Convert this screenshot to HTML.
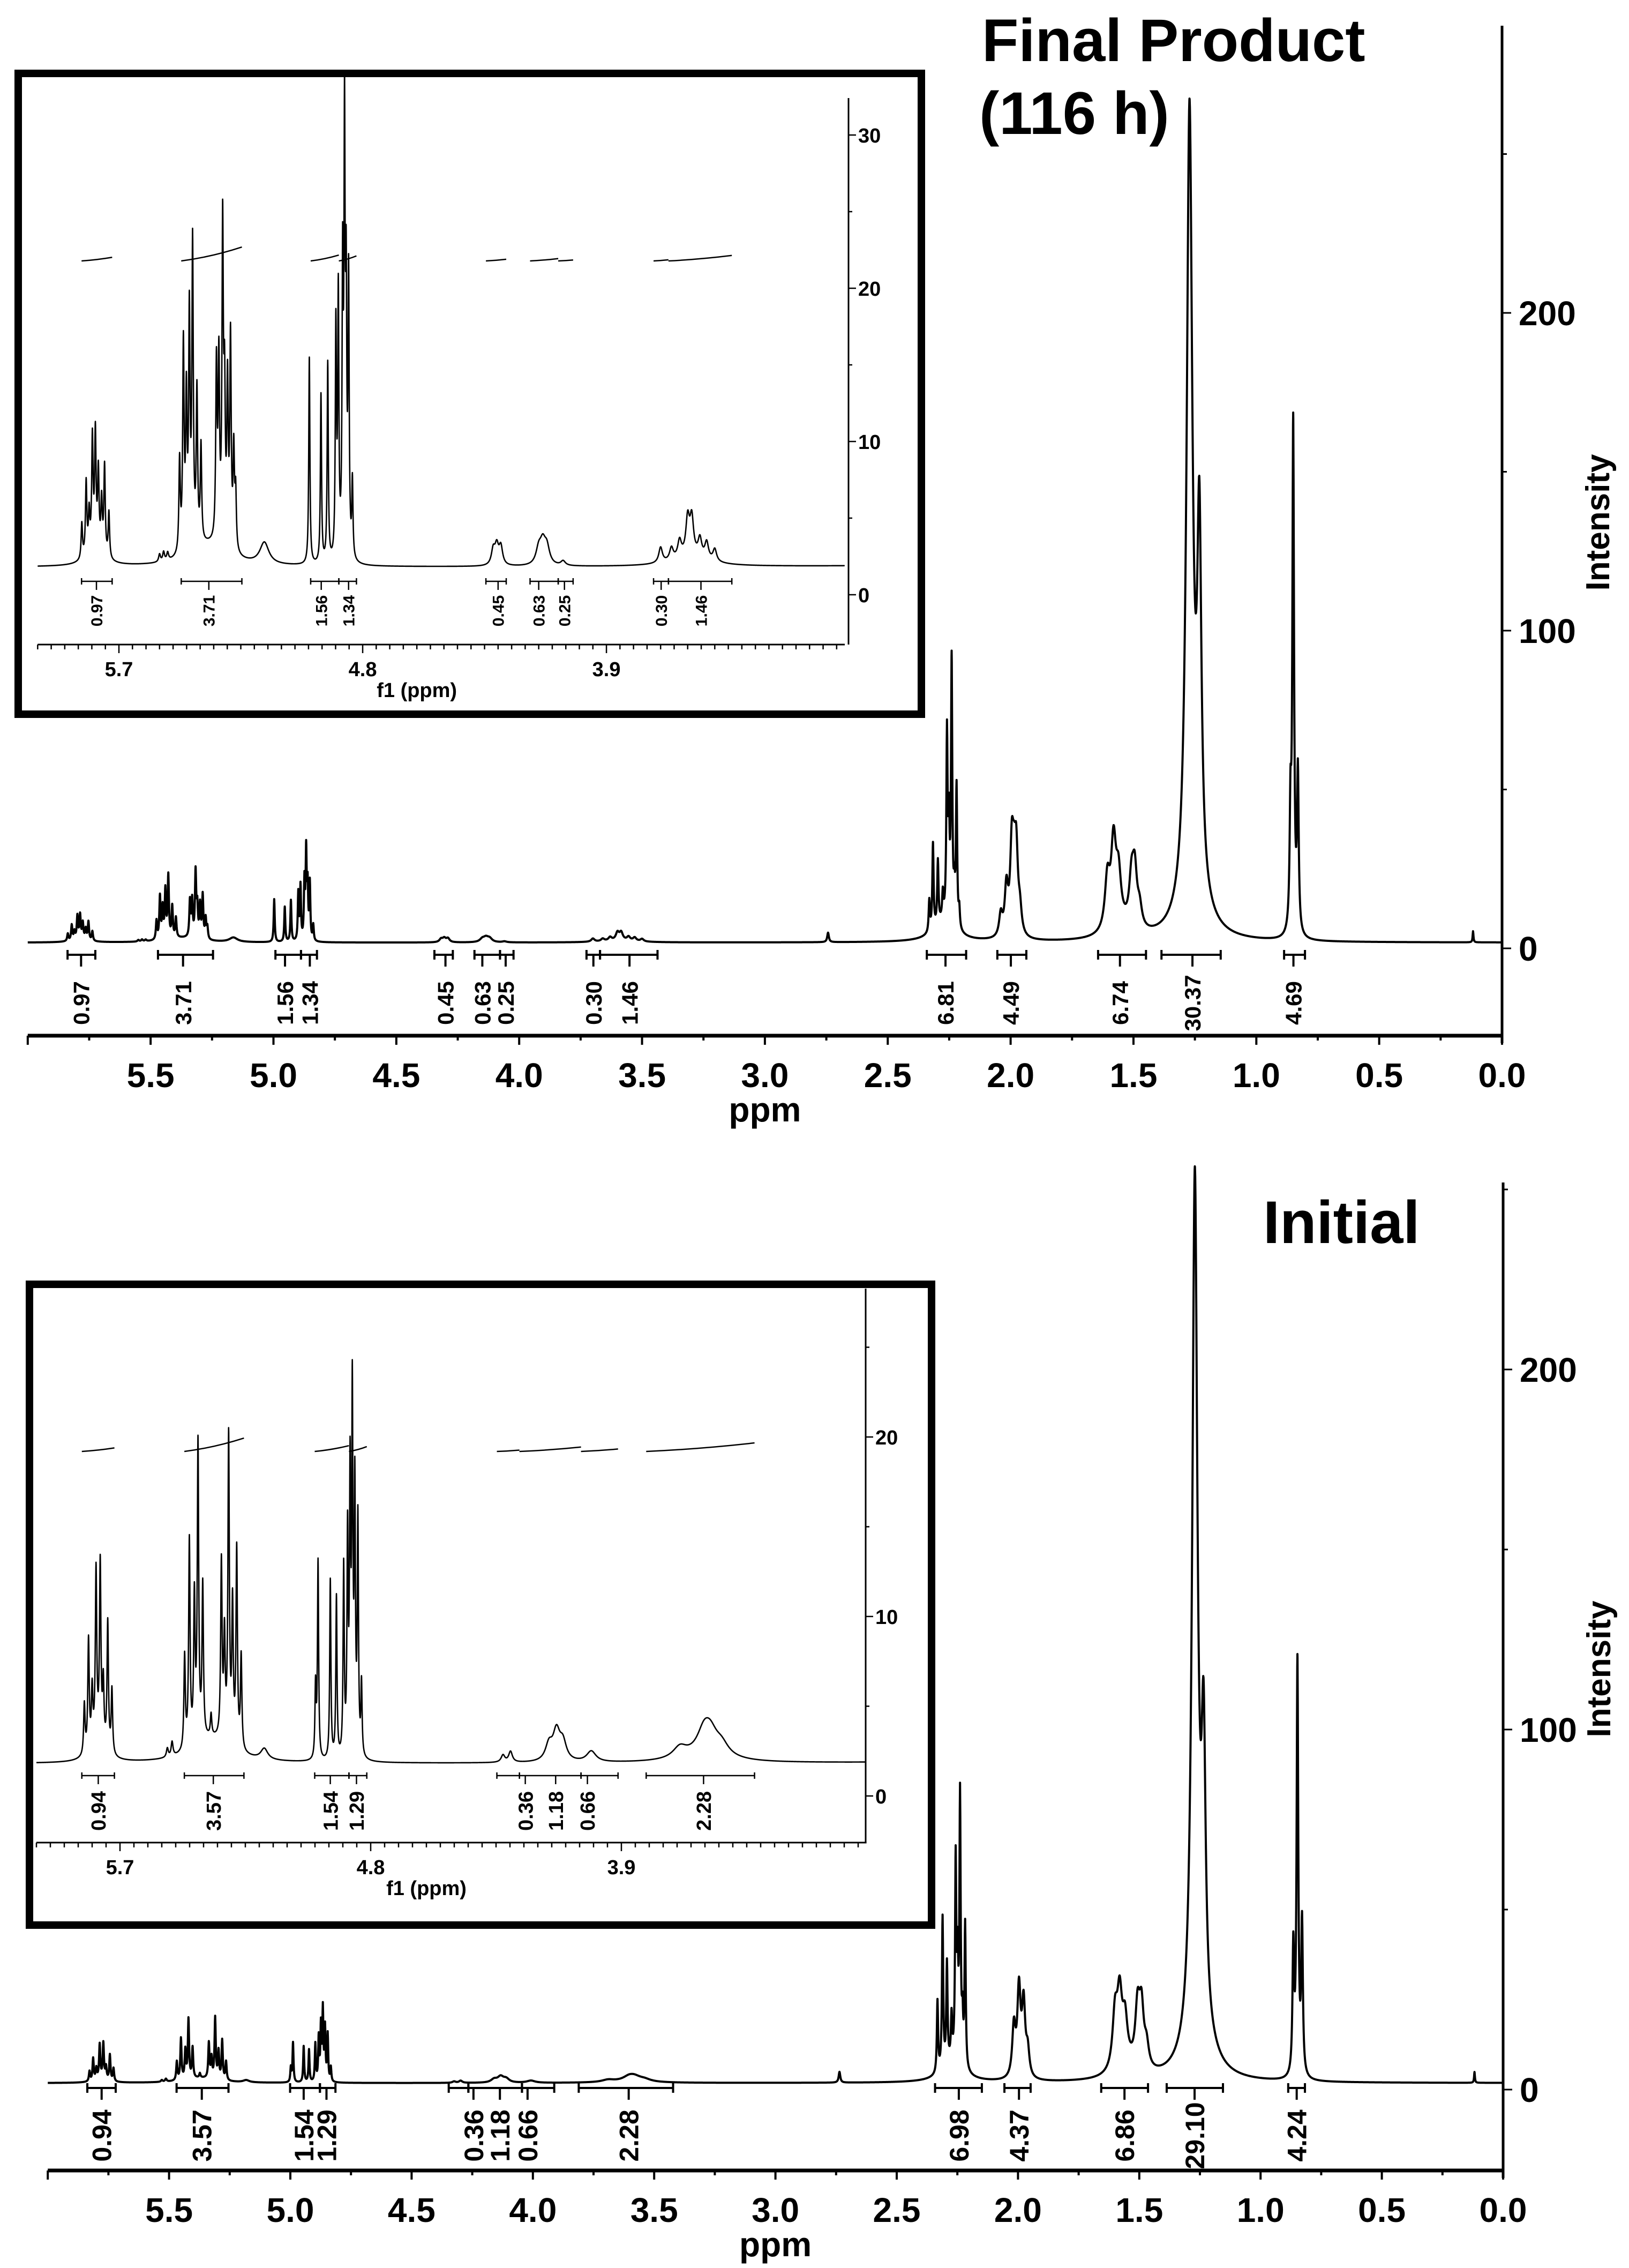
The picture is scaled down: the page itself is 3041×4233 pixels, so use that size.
<!DOCTYPE html>
<html><head><meta charset="utf-8"><title>NMR spectra</title>
<style>html,body{margin:0;padding:0;background:#fff}svg{display:block}text{font-family:"Liberation Sans",Arial,sans-serif;font-weight:bold;fill:#000}</style>
</head><body>
<svg id="fig" xmlns="http://www.w3.org/2000/svg" width="3041" height="4233" viewBox="0 0 3041 4233">
<rect x="0" y="0" width="3041" height="4233" fill="#fff"/>
<text x="1833" y="114" font-size="112">Final Product</text>
<text x="1828" y="250" font-size="112">(116 h)</text>
<text x="2358" y="2320" font-size="112">Initial</text>
</svg>
<script>
// ---------- data: Final product (116 h) peaks (ppm, intensity, half-width ppm)
const topCenters=[5.837,5.821,5.810,5.798,5.787,5.776,5.764,5.753,5.737,5.787,5.55,5.535,5.52,
5.476,5.462,5.451,5.440,5.428,5.412,5.397,5.340,5.331,5.317,5.310,5.299,5.288,5.276,5.269,5.37,5.163,
4.997,4.954,4.929,4.899,4.890,4.874,4.867,4.861,4.852,4.838,
4.318,4.305,4.290,4.15,4.135,4.12,4.06,3.70,3.66,3.63,3.60,3.585,3.555,3.53,3.50,3.59,2.743,
2.331,2.316,2.296,2.276,2.259,2.251,2.240,2.229,2.220,2.209,2.27,
2.040,2.017,1.995,1.986,1.977,1.962,1.606,1.581,1.561,1.508,1.495,1.475,1.55,
1.272,1.232,1.25,0.861,0.850,0.831,0.118];
const topHeights=[2.3,4.8,2.5,7.2,7.4,5.0,3.3,5.8,3.0,1.0,0.5,0.6,0.5,
6,13.4,9.6,15,19.6,9.9,6.3,11.4,11.5,20.4,9.3,10.3,13.6,6.3,3.7,1.3,1.4,
13.5,11,13,15,17,18,27,16,18,5,
1.0,1.2,1.2,1.0,1.3,1.1,0.3,1.0,0.8,1.1,2.4,2.4,1.2,1.1,0.8,0.6,3,
10,27,20,8,58,28,82,10,44,6,6,
7,15,26,14,24,7,16,26,15,14,17,6,3,
250,110,10,35,160,50,3.5];
const topWidths=[0.003,0.003,0.003,0.003,0.003,0.003,0.003,0.003,0.003,0.035,0.004,0.004,0.004,
0.003,0.003,0.003,0.003,0.003,0.003,0.003,0.003,0.003,0.003,0.003,0.003,0.003,0.003,0.003,0.08,0.02,
0.0025,0.0025,0.0025,0.0025,0.0025,0.0025,0.0025,0.0025,0.0025,0.0025,
0.008,0.008,0.008,0.012,0.012,0.012,0.01,0.008,0.008,0.008,0.008,0.008,0.008,0.008,0.008,0.08,0.004,
0.003,0.003,0.003,0.003,0.003,0.003,0.003,0.003,0.003,0.003,0.05,
0.008,0.008,0.008,0.008,0.008,0.008,0.012,0.012,0.012,0.011,0.011,0.011,0.06,
0.014,0.01,0.06,0.004,0.004,0.004,0.002];
// ---------- data: Initial peaks
const botCenters=[5.828,5.813,5.800,5.786,5.771,5.760,5.744,5.729,5.78,5.513,5.53,
5.468,5.451,5.433,5.420,5.403,5.373,5.336,5.325,5.310,5.296,5.281,5.265,5.37,5.182,
4.998,4.989,4.945,4.923,4.897,4.883,4.874,4.866,4.857,4.846,4.833,
4.325,4.298,4.16,4.133,4.11,4.008,3.69,3.603,3.58,3.54,3.6,2.736,
2.332,2.311,2.293,2.274,2.257,2.249,2.239,2.229,2.218,2.27,
2.017,1.996,1.977,1.96,1.600,1.581,1.559,1.507,1.491,1.47,1.55,
1.271,1.235,1.25,0.865,0.848,0.829,0.118];
const botHeights=[2.8,6.2,3.1,9.5,9.9,3.4,7.2,3.6,1,0.8,0.5,
5.2,11.5,8,16.5,8.5,1.2,9.8,5.6,17,7.7,11,5.2,1.3,0.6,
4,11,10,9,10.5,12,15,19.5,14.5,13,4,
0.4,0.6,0.9,1.6,1.0,0.6,0.6,1.2,1.0,0.6,0.4,3,
20,42,28,12,55,25,74,12,40,5,
14,24,20,7,15,19,12,16,16,6,3,
240,75,10,35,115,42,3];
const botWidths=[0.003,0.003,0.003,0.003,0.003,0.003,0.003,0.003,0.03,0.004,0.004,
0.003,0.003,0.003,0.003,0.003,0.003,0.003,0.003,0.003,0.003,0.003,0.003,0.08,0.015,
0.0025,0.0025,0.0025,0.0025,0.0025,0.0025,0.0025,0.0025,0.0025,0.0025,0.0025,
0.008,0.008,0.015,0.015,0.015,0.02,0.03,0.03,0.03,0.03,0.1,0.004,
0.003,0.003,0.003,0.003,0.003,0.003,0.003,0.003,0.003,0.05,
0.008,0.008,0.008,0.008,0.012,0.012,0.012,0.011,0.011,0.011,0.06,
0.013,0.01,0.06,0.004,0.004,0.004,0.002];
const baseLevel=1.8;
// ---------- integrations
const topIntStart=[5.838,5.470,4.992,4.888,4.345,4.182,4.078,3.726,3.671,2.341,2.054,1.644,1.386,0.887];
const topIntEnd=[5.725,5.246,4.888,4.823,4.270,4.078,4.023,3.671,3.437,2.181,1.936,1.449,1.145,0.802];
const topIntPos=[5.783,5.368,4.953,4.852,4.300,4.150,4.055,3.698,3.551,2.265,1.999,1.555,1.26,0.849];
const topIntLabels=["0.97","3.71","1.56","1.34","0.45","0.63","0.25","0.30","1.46","6.81","4.49","6.74","30.37","4.69"];
const botIntStart=[5.837,5.469,5.001,4.878,4.347,4.266,4.045,3.811,2.342,2.056,1.657,1.387,0.886];
const botIntEnd=[5.720,5.255,4.878,4.814,4.266,4.045,3.912,3.422,2.149,1.948,1.464,1.155,0.817];
const botIntPos=[5.778,5.365,4.945,4.851,4.245,4.136,4.022,3.605,2.244,1.996,1.561,1.272,0.851];
const botIntLabels=["0.94","3.57","1.54","1.29","0.36","1.18","0.66","2.28","6.98","4.37","6.86","29.10","4.24"];
// ---------- ticks
const mainXTicks=["5.5","5.0","4.5","4.0","3.5","3.0","2.5","2.0","1.5","1.0","0.5","0.0"];
const topYTicks=["0","100","200"];
const botYTicks=["0","100","200"];
const insetXTicks=["5.7","4.8","3.9"];
const topInsetYTicks=["0","10","20","30"];
const botInsetYTicks=["0","10","20"];

const NS="http://www.w3.org/2000/svg";
const svg=document.getElementById('fig');
function mk(tag,attrs,parent){const e=document.createElementNS(NS,tag);for(const k in attrs)e.setAttribute(k,attrs[k]);(parent||svg).appendChild(e);return e;}
function spec(c,h,w,p){let s=baseLevel;for(let i=0;i<c.length;i++){const d=(p-c[i])/w[i];s+=h[i]/(1+d*d);}return s;}
function drawSpectrum(g,c,h,w,X,Y,p0,p1,step,sw,name){
  const pxStart=X(p0),pxEnd=X(p1);
  const xs=[];for(let x=pxStart;x<=pxEnd;x+=step)xs.push(x);
  const inv=(x)=>p0+(x-pxStart)/(pxEnd-pxStart)*(p1-p0);
  c.forEach(cc=>{if(cc<=p0&&cc>=p1)xs.push(X(cc));});xs.sort((a,b)=>a-b);
  let d='';xs.forEach((x,i)=>{const v=spec(c,h,w,inv(x));d+=(i?'L':'M')+x.toFixed(2)+' '+Y(v).toFixed(2);});
  const p=mk('path',{d:d,fill:'none',stroke:'#000','stroke-width':sw,'stroke-linejoin':'round'},g);
  
  
}
function drawPanel(o){
  const g=mk('g',{});
  
  
  const X=o.X,Y=o.Y;
  drawSpectrum(g,o.c,o.h,o.w,X,Y,6.0,0.0,0.5,4,o.name+'-spectrum');
  const ax=mk('line',{x1:X(6.0),x2:X(0),y1:o.axisY,y2:o.axisY,stroke:'#000','stroke-width':7},g);
  
  
  for(let k=1;k<=24;k++){const p=k*0.25;if(p>6)break;const major=(k%2===0);
    const t=mk('line',{x1:X(p),x2:X(p),y1:o.axisY,y2:o.axisY+(major?17:9),stroke:'#000','stroke-width':4},g);
    
    }
  const t0=mk('line',{x1:X(0),x2:X(0),y1:o.axisY,y2:o.axisY+17,stroke:'#000','stroke-width':4},g);
  
  
  mainXTicks.forEach(s=>{const tx=mk('text',{x:X(parseFloat(s)),y:o.axisY+96,'font-size':64,'text-anchor':'middle'},g);tx.textContent=s;
    
    });
  const xl=mk('text',{x:X(3.0),y:o.axisY+160,'font-size':64,'text-anchor':'middle'},g);xl.textContent='ppm';
  
  
  const ya=mk('line',{x1:X(0),x2:X(0),y1:o.yTop,y2:o.axisY+14,stroke:'#000','stroke-width':5},g);
  
  
  for(let v=0;v<=o.yMax;v+=50){const major=(v%100===0);
    const t=mk('line',{x1:X(0),x2:X(0)+(major?17:9),y1:Y(v),y2:Y(v),stroke:'#000','stroke-width':3},g);
    
    }
  o.yTicks.forEach(s=>{const tx=mk('text',{x:X(0)+31,y:Y(parseFloat(s))+23,'font-size':64},g);tx.textContent=s;
    
    });
  const yl=mk('text',{transform:'translate('+(X(0)+200)+','+o.titleY+') rotate(-90)','font-size':62,'text-anchor':'middle'},g);yl.textContent='Intensity';
  
  
  drawBrackets(g,X,o.iS,o.iE,o.iP,o.iL,o.brY,9,22,o.labY,o.labFs,4);
}
function drawBrackets(g,X,S,E,P,L,by,cap,tick,ly,fs,sw){
  for(let i=0;i<S.length;i++){
    const b=mk('g',{},g);
    
    
    mk('line',{x1:X(S[i]),x2:X(E[i]),y1:by,y2:by,stroke:'#000','stroke-width':sw},b);
    mk('line',{x1:X(S[i]),x2:X(S[i]),y1:by-cap,y2:by+cap,stroke:'#000','stroke-width':sw},b);
    mk('line',{x1:X(E[i]),x2:X(E[i]),y1:by-cap,y2:by+cap,stroke:'#000','stroke-width':sw},b);
    mk('line',{x1:X(P[i]),x2:X(P[i]),y1:by,y2:by+tick,stroke:'#000','stroke-width':sw},b);
    const t=mk('text',{transform:'translate('+(X(P[i])+fs*0.36)+','+ly+') rotate(-90)','font-size':fs,'text-anchor':'middle'},b);
    t.textContent=L[i];
  }
}
function drawInset(o){
  const g=mk('g',{});
  
  
  const bx=mk('rect',{x:o.bx+7,y:o.by+7,width:o.bw-14,height:o.bh-14,fill:'#fff',stroke:'#000','stroke-width':14},g);
  
  
  const X=o.X,Y=o.Y;
  drawSpectrum(g,o.c,o.h,o.w,X,Y,o.p0,o.p1,0.25,2.6,o.name+'-spectrum');
  const ax=mk('line',{x1:X(o.p0),x2:X(o.p1),y1:o.axisY,y2:o.axisY,stroke:'#000','stroke-width':3},g);
  
  
  for(let k=0;k<=60;k++){const p=6.0-k*0.05;if(p<o.p1)break;const lab=[5.7,4.8,3.9].some(v=>Math.abs(v-p)<1e-6);
    const t=mk('line',{x1:X(p),x2:X(p),y1:o.axisY,y2:o.axisY+(lab?16:9),stroke:'#000','stroke-width':2.5},g);
    
    }
  insetXTicks.forEach(s=>{const tx=mk('text',{x:X(parseFloat(s)),y:o.axisY+59,'font-size':38,'text-anchor':'middle'},g);tx.textContent=s;
    
    });
  const xl=mk('text',{x:X(4.6),y:o.axisY+98,'font-size':38,'text-anchor':'middle'},g);xl.textContent='f1 (ppm)';
  
  
  const ya=mk('line',{x1:o.ryx,x2:o.ryx,y1:o.yTop,y2:o.axisY,stroke:'#000','stroke-width':3},g);
  
  
  for(let v=0;v<=o.yMax;v+=5){const major=(v%10===0);
    const t=mk('line',{x1:o.ryx,x2:o.ryx+(major?14:7),y1:Y(v),y2:Y(v),stroke:'#000','stroke-width':2.5},g);
    
    }
  o.yTicks.forEach(s=>{const tx=mk('text',{x:o.ryx+18,y:Y(parseFloat(s))+14,'font-size':38},g);tx.textContent=s;
    
    });
  const S=[],E=[],P=[],L=[];
  for(let i=0;i<o.iS.length;i++){if(o.iS[i]<=o.p0&&o.iE[i]>=o.p1){S.push(o.iS[i]);E.push(o.iE[i]);P.push(o.iP[i]);L.push(o.iL[i]);}}
  for(let i=0;i<S.length;i++){const v=parseFloat(L[i]);
    const l=mk('path',{d:'M'+X(S[i])+' '+o.intY+' Q'+((X(S[i])+X(E[i]))/2)+' '+(o.intY-v*2)+' '+X(E[i])+' '+(o.intY-v*7),fill:'none',stroke:'#000','stroke-width':2.5},g);
    
    }
  drawBrackets(g,X,S,E,P,L,o.brY,6,16,o.labY,o.labFs,2.5);
}
drawPanel({name:'final-product-panel',c:topCenters,h:topHeights,w:topWidths,
  X:p=>2804-p*458.7,Y:v=>1770-v*5.93,axisY:1933,yTop:48,yMax:250,yTicks:topYTicks,titleY:975,
  iS:topIntStart,iE:topIntEnd,iP:topIntPos,iL:topIntLabels,brY:1782,labY:1872,labFs:42});
drawPanel({name:'initial-panel',c:botCenters,h:botHeights,w:botWidths,
  X:p=>2806-p*452.8,Y:v=>3900-v*6.72,axisY:4051,yTop:2207,yMax:250,yTicks:botYTicks,titleY:3115,
  iS:botIntStart,iE:botIntEnd,iP:botIntPos,iL:botIntLabels,brY:3897,labY:3986,labFs:50});
drawInset({name:'final-product-inset',bx:27,by:130,bw:1700,bh:1210,c:topCenters,h:topHeights,w:topWidths,
  X:p=>222+(5.7-p)*505.6,Y:v=>1110-v*28.6,p0:6.0,p1:3.02,axisY:1203,ryx:1584,yTop:183,yMax:30,yTicks:topInsetYTicks,
  iS:topIntStart,iE:topIntEnd,iP:topIntPos,iL:topIntLabels,intY:487,brY:1085,labY:1140,labFs:30});
drawInset({name:'initial-inset',bx:48,by:2390,bw:1698,bh:1210,c:botCenters,h:botHeights,w:botWidths,
  X:p=>224+(5.7-p)*520,Y:v=>3352-v*33.5,p0:6.0,p1:3.02,axisY:3439,ryx:1616,yTop:2405,yMax:25,yTicks:botInsetYTicks,
  iS:botIntStart,iE:botIntEnd,iP:botIntPos,iL:botIntLabels,intY:2709,brY:3314,labY:3380,labFs:38});
</script>
</body></html>
